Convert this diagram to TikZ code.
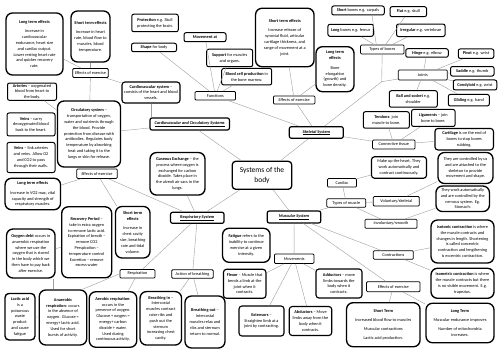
\documentclass[tikz,border=0pt]{standalone}
\usepackage{fontspec}
\setmainfont{Carlito}
\usetikzlibrary{calc}

\begin{document}
\begin{tikzpicture}[
	x=2pt, y=-2pt,
	font=\fontsize{8.6}{11.6}\selectfont,
	% Style for the large text boxes
	bigbox/.style={draw, rounded corners=13pt, line width=2.7pt, align=center, inner sep=3pt},
	% Style for medium boxes
	midbox/.style={draw, rounded corners=6pt, line width=2.3pt, align=center, inner sep=2pt},
	% Style for short facts
	smallbox/.style={draw, rounded corners=4pt, line width=2pt, align=center, inner sep=2pt},
	% Style for the small topic tags
	tag/.style={draw, rounded corners=2pt, line width=1.5pt, align=center, inner sep=1pt},
	% Style for the four systems
	sysbox/.style={draw, rounded corners=4pt, line width=2.4pt, align=center,
		font=\fontsize{8.6}{11.6}\selectfont\bfseries\itshape},
	% Style for connectors
	link/.style={draw=gray!75, line width=0.8pt}
	]
	
	\fill[white] (0,0) rectangle (500,354);
	\useasboundingbox (0,0) rectangle (500,354);
	
	% 1. Centre and systems
	\node[draw, rounded corners=7pt, line width=2.6pt, align=center, minimum width=119pt, minimum height=56pt,
		font=\fontsize{15}{21}\selectfont] (sotb) at (262,175.3) {Systems of the\\ body};
	\node[sysbox, minimum width=159pt, minimum height=24pt] (cc) at (189.7,124) {\underline{Cardiovascular and Circulatory Systems}};
	\node[sysbox, minimum width=108pt, minimum height=23pt] (skel) at (316.3,132.5) {\underline{Skeletal System}};
	\node[sysbox, minimum width=107pt, minimum height=22pt] (resp) at (197.3,217.8) {\underline{Respiratory System}};
	\node[sysbox, minimum width=107pt, minimum height=24pt] (musc) at (294,217) {\underline{Muscular System}};
	
	% 2. Cardiovascular and circulatory systems
	\node[bigbox, minimum width=114pt, minimum height=124pt] (ltcirc) at (34.5,44) {\textbf{Long term effects}\\[8pt] Increase in\\ cardiovascular\\ endurance, heart size\\ and cardiac output.\\ Lower resting heart rate\\ and quicker recovery\\ rate.};
	\node[bigbox, minimum width=78pt, minimum height=102pt] (stcirc) at (90.5,36.5) {\textbf{Short term effects}\\[8pt] Increase in heart\\ rate, blood flow to\\ muscles, blood\\ temperature.};
	\node[tag, minimum width=71pt, minimum height=18pt] (exccirc) at (90.5,73) {Effects of exercise};
	\node[midbox, minimum width=116pt, minimum height=42pt] (cvsys) at (151,92.5) {\textbf{Cardiovascular system} --\\ consists of the heart and blood\\ vessels.};
	\node[smallbox, minimum width=98pt, minimum height=34pt] (arteries) at (32,91.7) {\textbf{Arteries} -- oxygenated\\ blood from heart to\\ the body.};
	\node[bigbox, minimum width=126pt, minimum height=132pt] (circ) at (89,134) {\textbf{Circulatory system} --\\ transportation of oxygen,\\ water and nutrients through\\ the blood. Provide\\ protection from disease with\\ antibodies. Regulates body\\ temperature by absorbing\\ heat and taking it to the\\ lungs or skin for release.};
	\node[smallbox, minimum width=96pt, minimum height=46pt] (veinsa) at (31,124.5) {\textbf{Veins} -- carry\\ deoxygenated blood\\ back to the heart.};
	\node[smallbox, minimum width=96pt, minimum height=60pt] (veinsb) at (31,157.5) {\textbf{Veins} -- link arteries\\ and veins. Allow O2\\ and CO2 to pass\\ through their walls.};
	
	% 3. Respiratory system
	\node[tag, minimum width=81pt, minimum height=19pt] (excresp) at (97,173.7) {Effects of exercise};
	\node[bigbox, minimum width=111pt, minimum height=63pt] (ltresp) at (32.8,194) {\textbf{Long term effects}\\[8pt] Increase in VO2 max, vital\\ capacity and strength of\\ respiratory muscles.};
	\node[bigbox, minimum width=100pt, minimum height=142pt] (recovery) at (86.7,242.3) {\textbf{Recovery Period} --\\ take in extra oxygen\\ to remove lactic acid.\\ Expiration of breath --\\ remove CO2\\ Perspiration --\\ temperature control\\ Excretion -- remove\\ excess water};
	\node[bigbox, minimum width=69pt, minimum height=103pt] (stresp) at (132.75,232.25) {\textbf{Short term}\\ \textbf{effects}\\[8pt] Increase in\\ chest cavity\\ size, breathing\\ rate and tidal\\ volume.};
	\node[bigbox, minimum width=97pt, minimum height=98pt] (oxydebt) at (30.8,253.5) {\textbf{Oxygen debt} occurs in\\ anaerobic respiration\\ where we use the\\ oxygen that is stored\\ in the body which we\\ then have to pay back\\ after exercise.};
	\node[tag, minimum width=70pt, minimum height=17pt] (respn) at (137.5,273.8) {Respiration};
	\node[bigbox, rounded corners=8pt, minimum width=60pt, minimum height=93pt] (lactic) at (20,316.7) {\textbf{Lactic acid}\\ is a\\ poisonous\\ waste\\ product\\ and cause\\ fatigue};
	\node[bigbox, minimum width=95pt, minimum height=110pt] (anaer) at (63,317.5) {\textbf{Anaerobic}\\ \textbf{respiration}: occurs\\ in the absence of\\ oxygen. Glucose =\\ energy+ lactic acid.\\ Used for short\\ bursts of activity.};
	\node[bigbox, minimum width=95pt, minimum height=111pt] (aer) at (113,319.5) {\textbf{Aerobic respiration}:\\ occurs in the\\ presence of oxygen.\\ Glucose + oxygen =\\ energy+ carbon\\ dioxide + water.\\ Used during\\ continuous activity.};
	\node[bigbox, minimum width=83pt, minimum height=107pt] (brin) at (160.8,318.3) {\textbf{Breathing in} --\\ Intercostal\\ muscles contract\\ raise ribs and\\ push out the\\ sternum\\ increasing chest\\ cavity.};
	\node[tag, minimum width=83pt, minimum height=17pt] (actbr) at (192.5,274) {Action of breathing};
	\node[bigbox, minimum width=80pt, minimum height=104pt] (brout) at (205,322) {\textbf{Breathing out} --\\ Intercostal\\ muscles relax and\\ ribs and sternum\\ return to normal.};
	\node[bigbox, minimum width=110pt, minimum height=85pt] (gas) at (177.5,173.8) {\textbf{Gaseous Exchange} -- the\\ process where oxygen is\\ exchanged for carbon\\ dioxide. Takes place in\\ the alveoli air sacs in the\\ lungs.};
	
	% 4. Muscular system
	\node[bigbox, minimum width=95pt, minimum height=68pt] (fatigue) at (246.3,245.3) {\textbf{Fatigue} refers to the\\ inability to continue\\ exercise at a given\\ intensity.};
	\node[tag, minimum width=79pt, minimum height=19pt] (moves) at (294.2,258.7) {Movements};
	\node[midbox, minimum width=85pt, minimum height=58pt] (flexor) at (244.7,283.8) {\textbf{Flexor} -- Muscle that\\ bends a limb at the\\ joint when it\\ contracts.};
	\node[midbox, minimum width=90pt, minimum height=60pt] (extens) at (261.5,321) {\textbf{Extensors} --\\ Straighten limb at a\\ joint by contracting.};
	\node[midbox, minimum width=85pt, minimum height=58pt] (abduct) at (310.5,321) {\textbf{Abductors} -- Move\\ limbs away from the\\ body when it\\ contracts.};
	\node[midbox, minimum width=92pt, minimum height=58pt] (adduct) at (339,283.5) {\textbf{Adductors} -- move\\ limbs towards the\\ body when it\\ contracts.};
	\node[tag, minimum width=107pt, minimum height=20pt] (excmus) at (393.3,286.7) {Effects of exercise};
	\node[bigbox, minimum width=147pt, minimum height=88pt] (shortterm) at (383.3,324.7) {\textbf{Short Term}\\[6pt] Increased blood flow to muscles\\[6pt] Muscular contractions\\[6pt] Lactic acid production.};
	\node[bigbox, minimum width=136pt, minimum height=79pt] (longterm) at (460,323) {\textbf{Long Term}\\[6pt] Muscular endurance improves\\[6pt] Number of mitochondria\\ increases.};
	\node[tag, minimum width=80pt, minimum height=17pt] (contract) at (393.3,255) {Contractions};
	\node[bigbox, minimum width=126pt, minimum height=86pt] (isotonic) at (462.5,241.5) {\textbf{Isotonic contraction} is where\\ the muscle contracts and\\ changes in length. Shortening\\ is called concentric\\ contraction and lengthening\\ is eccentric contraction.};
	\node[bigbox, minimum width=126pt, minimum height=60pt] (isometric) at (462.5,283.3) {\textbf{Isometric contraction} is where\\ the muscle contracts but there\\ is no visible movement. E.g.\\ trapezius.};
	\node[tag, minimum width=78pt, minimum height=17pt] (typesmus) at (346.3,203) {Types of muscle};
	\node[tag, minimum width=58pt, minimum height=17pt] (cardiac) at (342,182.8) {Cardiac};
	\node[tag, minimum width=92pt, minimum height=19pt] (volun) at (396.3,201.3) {Voluntary/skeletal};
	\node[tag, minimum width=104pt, minimum height=18pt] (invol) at (391,223.8) {Involuntary/smooth};
	\node[midbox, minimum width=110pt, minimum height=43pt] (heart) at (399,167.5) {Make up the heart. They\\ work automatically and\\ contract continuously.};
	\node[bigbox, minimum width=110pt, minimum height=62pt] (theyctrl) at (465.5,168) {They are controlled by us\\ and are attached to the\\ skeleton to provide\\ movement and shape.};
	\node[bigbox, minimum width=107pt, minimum height=51pt] (theyauto) at (462.7,198.8) {They work automatically\\ and are controlled by the\\ nervous system. Eg.\\ Stomach.};
	
	% 5. Skeletal system
	\node[tag, minimum width=81pt, minimum height=17pt] (funcs) at (215.3,95.8) {Functions};
	\node[smallbox, minimum width=93pt, minimum height=35pt] (protect) at (155,23) {\textbf{Protection} e.g. Skull\\ protecting the brain.};
	\node[smallbox, minimum width=90pt, minimum height=17pt] (shape) at (154,47.5) {\textbf{Shape} for body};
	\node[smallbox, minimum width=84pt, minimum height=18pt] (moveat) at (205,37.2) {\textbf{Movement at}};
	\node[smallbox, minimum width=92pt, minimum height=35pt] (support) at (229.7,58) {\textbf{Support} for muscles\\ and organs.};
	\node[smallbox, minimum width=100pt, minimum height=33pt] (blood) at (246.7,76.7) {\textbf{Blood cell production} in\\ the bone marrow.};
	\node[tag, minimum width=83pt, minimum height=16pt] (excskel) at (294.2,100) {Effects of exercise};
	\node[bigbox, minimum width=117pt, minimum height=117pt] (stskel) at (284.8,37.5) {\textbf{Short term effects}\\[8pt] Increase release of\\ synovial fluid, articular\\ cartilage thickness, and\\ range of movement at a\\ joint.};
	\node[bigbox, minimum width=76pt, minimum height=90pt] (ltskel) at (335,69.2) {\textbf{Long term}\\ \textbf{effects}\\[8pt] Bone\\ elongation\\ (growth) and\\ bone density.};
	\node[tag, minimum width=87pt, minimum height=18pt] (typesb) at (382.3,49.5) {Types of bones};
	\node[smallbox, minimum width=105pt, minimum height=18pt] (shortb) at (358,10.5) {\textbf{Short} bones e.g. carpals};
	\node[smallbox, minimum width=73pt, minimum height=20pt] (flat) at (408.3,11.7) {\textbf{Flat} e.g. skull};
	\node[smallbox, minimum width=91pt, minimum height=24pt] (longb) at (350.7,30.3) {\textbf{Long} bones e.g. femur};
	\node[smallbox, minimum width=97pt, minimum height=25pt] (irreg) at (420.8,30.3) {\textbf{Irregular} e.g. vertebrae};
	\node[tag, minimum width=98pt, minimum height=20pt] (joints) at (422.8,75) {Joints};
	\node[smallbox, minimum width=85pt, minimum height=17pt] (hinge) at (427,53) {\textbf{Hinge} e.g. elbow};
	\node[smallbox, minimum width=71pt, minimum height=19pt] (pivot) at (476,53.7) {\textbf{Pivot} e.g. wrist};
	\node[smallbox, minimum width=87pt, minimum height=19pt] (saddle) at (472.3,71.3) {\textbf{Saddle} e.g. thumb};
	\node[smallbox, minimum width=87pt, minimum height=20pt] (condy) at (475,85) {\textbf{Condyloid} e.g. wrist};
	\node[smallbox, minimum width=82pt, minimum height=23pt] (glide) at (468.8,100.2) {\textbf{Gliding} e.g. hand};
	\node[smallbox, minimum width=96pt, minimum height=33pt] (ball) at (413.3,99) {\textbf{Ball and socket} e.g.\\ shoulder};
	\node[tag, minimum width=85pt, minimum height=18pt] (conn) at (393.8,144.5) {Connective tissue};
	\node[smallbox, minimum width=92pt, minimum height=33pt] (tendons) at (386.3,120) {\textbf{Tendons}: join\\ muscle to bone.};
	\node[smallbox, minimum width=87pt, minimum height=34pt] (ligam) at (433.3,118) {\textbf{Ligaments} -- join\\ bone to bone.};
	\node[midbox, minimum width=117pt, minimum height=43pt] (cartil) at (464.2,139.2) {\textbf{Cartilage} is on the end of\\ bones to stop bones\\ rubbing.};
	\coordinate (bonesplit) at (381.7,81.7);
	
	% 6. Connectors from the centre
	\draw[link] (sotb) -- (cc);
	\draw[link] (sotb) -- (skel);
	\draw[link] (sotb) -- (resp);
	\draw[link] (sotb) -- (musc);
	
	% 7. Cardiovascular connectors
	\draw[link] (cvsys.south) -- (cvsys.south |- cc.north);
	\draw[link] (cc) -- (circ);
	\draw[link] (exccirc) -- (ltcirc);
	\draw[link] (exccirc) -- (stcirc);
	\draw[link] (exccirc) -- (cvsys);
	\draw[link] (exccirc) -- (circ);
	\draw[link] (arteries) -- (circ);
	\draw[link] (veinsa) -- (circ);
	\draw[link] (veinsb) -- (circ);
	
	% 8. Respiratory connectors
	\draw[link] (excresp) -- (ltresp);
	\draw[link] (excresp) -- (stresp);
	\draw[link] (excresp) -- (resp);
	\draw[link] (recovery) -- (oxydebt);
	\draw[link] ([xshift=-6pt]oxydebt.south east) -- ([xshift=-6pt]oxydebt.south east |- anaer.north);
	\draw[link] (lactic) -- (anaer);
	\draw[link] (resp) -- (respn);
	\draw[link] (respn.west) -- ([xshift=-10pt]anaer.north east);
	\draw[link] (respn) -- (aer);
	\draw[link] (resp) -- (actbr);
	\draw[link] (actbr) -- (brin);
	\draw[link] (actbr) -- (brout);
	\draw[link] (gas) -- (resp);
	
	% 9. Muscular connectors
	\draw[link] (musc) -- (moves);
	\draw[link] (musc) -- (typesmus);
	\draw[link] (musc) -- (contract);
	\draw[link] (musc) -- (excmus);
	\foreach \m in {flexor, extens, abduct, adduct}
		\draw[link] (moves) -- (\m);
	\draw[link] (contract) -- (isotonic);
	\draw[link] (contract) -- (isometric);
	\draw[link] (excmus) -- (shortterm);
	\draw[link] (excmus) -- (longterm);
	\foreach \m in {cardiac, volun, invol}
		\draw[link] (typesmus) -- (\m);
	\draw[link] (cardiac) -- (heart);
	\draw[link] (volun) -- (theyctrl);
	\draw[link] (invol) -- (theyauto);
	
	% 10. Skeletal connectors
	\draw[link] (skel) -- (funcs);
	\draw[link] (skel) -- (excskel);
	\draw[link] (skel) -- (conn);
	\draw[link] (skel) -- (bonesplit) -- (typesb);
	\draw[link] (bonesplit) -- (joints);
	\foreach \f in {shape, moveat, support, blood}
		\draw[link] (funcs) -- (\f);
	\draw[link] (excskel) -- (stskel);
	\draw[link] (excskel) -- (ltskel);
	\draw[link] ([xshift=-12pt]typesb.north) -- ([xshift=28pt]shortb.south);
	\foreach \b in {longb, flat, irreg}
		\draw[link] (typesb) -- (\b);
	\foreach \j in {hinge, pivot, saddle, condy, glide, ball}
		\draw[link] (joints) -- (\j);
	\foreach \c in {tendons, ligam, cartil}
		\draw[link] (conn) -- (\c);
	
\end{tikzpicture}
\end{document}
